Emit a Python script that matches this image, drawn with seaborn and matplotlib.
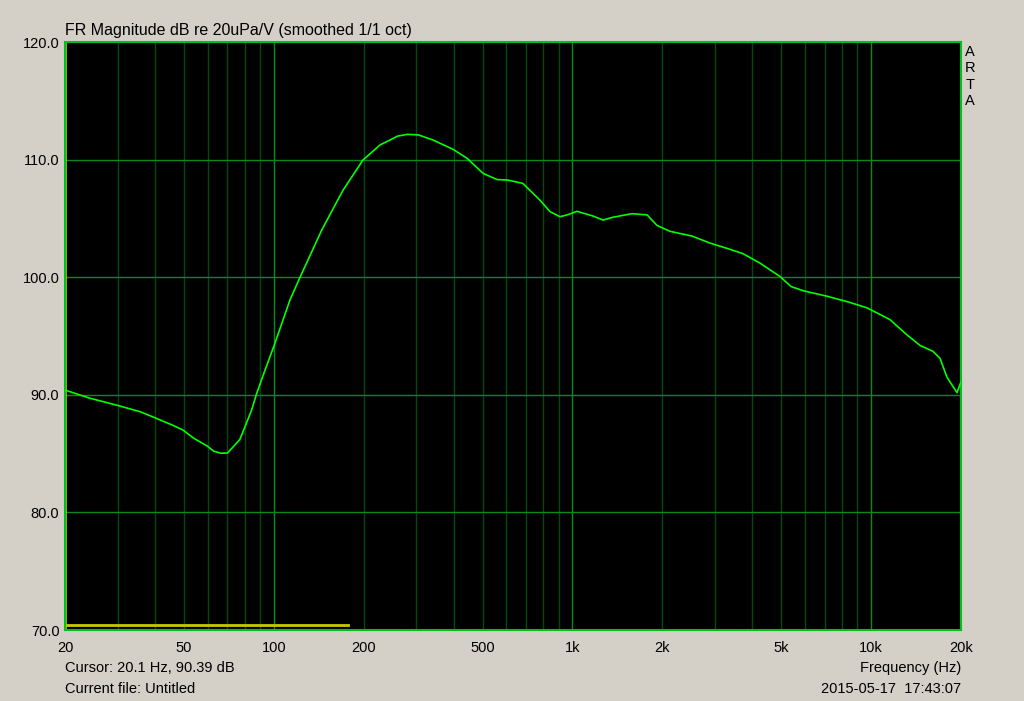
import numpy as np
import pandas as pd
import matplotlib
matplotlib.use('Agg')
import matplotlib.pyplot as plt
import seaborn as sns

# Frequency response
freq_hz = [20, 24.3, 30, 35.7, 40, 46, 49.7, 54, 59.8, 63, 66.6, 70, 77, 84.3,
           87.7, 93.5, 100, 113.3, 122.4, 144.7, 170.6, 199, 226.8, 260, 281,
           305, 341, 398, 444, 502, 560, 604, 682, 778, 842, 908, 960, 1036,
           1172, 1266, 1368, 1582, 1778, 1920, 2122, 2514, 2888, 3294, 3724,
           4246, 4954, 5400, 5960, 7076, 8368, 9680, 11560, 13180, 14580,
           16110, 17010, 17950, 19390, 20000]
level_db = [90.4, 89.7, 89.1, 88.56, 88.05, 87.4, 87.0, 86.3, 85.65, 85.2,
            85.03, 85.05, 86.2, 88.7, 90.13, 92.1, 94.1, 98.06, 99.98, 104.0,
            107.4, 109.97, 111.24, 112.0, 112.15, 112.1, 111.67, 110.88,
            110.11, 108.83, 108.3, 108.27, 107.98, 106.56, 105.57, 105.14,
            105.3, 105.6, 105.2, 104.86, 105.1, 105.4, 105.3, 104.4, 103.9,
            103.5, 102.9, 102.45, 102.0, 101.2, 100.06, 99.2, 98.83, 98.4,
            97.9, 97.4, 96.4, 95.1, 94.2, 93.7, 93.1, 91.5, 90.18, 91.1]

# yellow marker bar at the bottom and cursor position
bar_freq = [20, 177]
bar_db = [70.4, 70.4]
cursor_freq = 20.1
cursor_db = 90.39

x_ticks = [20, 50, 100, 200, 500, 1000, 2000, 5000, 10000, 20000]
x_labels = ['20', '50', '100', '200', '500', '1k', '2k', '5k', '10k', '20k']
y_ticks = [70, 80, 90, 100, 110, 120]
decade_lines = [100, 1000, 10000]
minor_lines = [30, 40, 50, 60, 70, 80, 90, 200, 300, 400, 500, 600, 700, 800,
               900, 2000, 3000, 4000, 5000, 6000, 7000, 8000, 9000]

plt.rcParams['font.family'] = ['Liberation Sans', 'DejaVu Sans']

bg = '#D4D0C8'
fs = 10.5
fig = plt.figure(figsize=(10.24, 7.01), dpi=100, facecolor=bg)
ax = fig.add_axes([65 / 1024, 71 / 701, 896 / 1024, 588 / 701])
ax.set_facecolor('black')
ax.set_xscale('log')
ax.set_xlim(20, 20000)
ax.set_ylim(70, 120)

# grid
xt = ax.get_xaxis_transform()
ax.vlines(minor_lines, 0, 1, transform=xt, color='#004A10', lw=1, zorder=1)
ax.vlines(decade_lines, 0, 1, transform=xt, color='#0A8A1A', lw=1, zorder=1)
ax.hlines(y_ticks[1:-1], 0, 1, transform=ax.get_yaxis_transform(),
          color='#0A8A1A', lw=1, zorder=1)

df = pd.DataFrame({'freq': freq_hz, 'db': level_db})
sns.lineplot(data=df, x='freq', y='db', ax=ax, color='#00FF00', lw=1.2, zorder=3)
sns.lineplot(x=bar_freq, y=bar_db, ax=ax, color='#C8C800', lw=2, zorder=2)
ax.axvline(cursor_freq, color='#C8C800', lw=1.2, zorder=2)

ax.set_xticks(x_ticks)
ax.set_xticklabels(x_labels)
ax.xaxis.set_minor_locator(matplotlib.ticker.NullLocator())
ax.set_yticks(y_ticks)
ax.set_yticklabels([f'{v:.1f}' for v in y_ticks])
ax.tick_params(axis='both', length=0, labelsize=fs, colors='black')
ax.tick_params(axis='x', pad=8)
ax.tick_params(axis='y', pad=4)
ax.set_xlabel('')
ax.set_ylabel('')
for s in ax.spines.values():
    s.set_color('#00C020')
    s.set_linewidth(1.5)

# texts around the plot
fig.text(65 / 1024, 1 - 31 / 701, 'FR Magnitude dB re 20uPa/V (smoothed 1/1 oct)',
         fontsize=11.5, va='center', ha='left')
for i, ch in enumerate('ARTA'):
    fig.text(970 / 1024, 1 - (52 + 16.3 * i) / 701, ch, fontsize=fs,
             va='center', ha='center')
fig.text(65 / 1024, 1 - 668 / 701, f'Cursor: {cursor_freq} Hz, {cursor_db} dB',
         fontsize=fs, va='center', ha='left')
fig.text(65 / 1024, 1 - 689 / 701, 'Current file: Untitled',
         fontsize=fs, va='center', ha='left')
fig.text(961 / 1024, 1 - 668 / 701, 'Frequency (Hz)',
         fontsize=fs, va='center', ha='right')
fig.text(961 / 1024, 1 - 689 / 701, '2015-05-17  17:43:07',
         fontsize=fs, va='center', ha='right')

fig.savefig('out.png', dpi=100, facecolor=bg)
